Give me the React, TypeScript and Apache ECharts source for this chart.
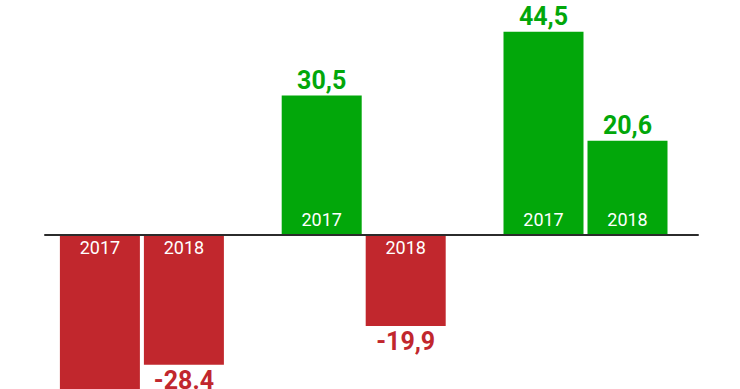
import { useEffect, useRef } from "react";
import * as echarts from "echarts";

const groups = ["Gruppe 1", "Gruppe 2", "Gruppe 3"];
const years = ["2017", "2018"];
const values2017 = [-36.8, 30.5, 44.5];
const values2018 = [-28.4, -19.9, 20.6];
const valueLabels2017 = ["", "30,5", "44,5"];
const valueLabels2018 = ["-28.4", "-19,9", "20,6"];

const GREEN = "#02a70a";
const RED = "#c1272d";
const FONT = "Roboto, 'Open Sans', sans-serif";

const Y_MIN = -33.7;
const Y_MAX = 50;
const GRID_TOP = 6.5;
const GRID_BOTTOM = 0;

export default function App() {
  const ref = useRef<HTMLDivElement>(null);

  useEffect(() => {
    document.body.style.margin = "0";
    const chart = echarts.init(ref.current!, null, { renderer: "svg" });

    const barData = (vals: number[]) =>
      vals.map((v) => ({
        value: v,
        itemStyle: { color: v >= 0 ? GREEN : RED },
        label:
          v >= 0
            ? { position: "insideBottom", distance: 6 }
            : { position: "insideTop", distance: 4 },
      }));

    const labelData = (vals: number[], labels: string[]) =>
      vals.map((v, i) => ({
        value: v,
        label: {
          position: v >= 0 ? "top" : "bottom",
          distance: v >= 0 ? 4 : 5,
          color: v >= 0 ? GREEN : RED,
          formatter: labels[i],
        },
      }));

    const barCommon = {
      type: "bar",
      barWidth: 80,
      barGap: "5%",
      barCategoryGap: "26%",
      xAxisIndex: 0,
      yAxisIndex: 0,
    };

    const yearLabel = (year: string) => ({
      show: true,
      formatter: () => year,
      color: "#ffffff",
      fontSize: 18,
      lineHeight: 18,
      fontFamily: FONT,
    });

    const valueLabel = {
      show: true,
      fontSize: 25,
      lineHeight: 22,
      fontWeight: "bold",
      fontFamily: FONT,
    };

    chart.setOption({
      animation: false,
      grid: [
        { left: 31, right: 43.6, top: GRID_TOP, bottom: GRID_BOTTOM },
        { left: 45, right: 42, top: GRID_TOP, bottom: GRID_BOTTOM },
      ],
      xAxis: [
        { type: "category", gridIndex: 0, data: groups, show: false },
        { type: "category", gridIndex: 0, data: groups, show: false, position: "top" },
        {
          type: "category",
          gridIndex: 1,
          data: groups,
          z: 10,
          axisLine: { show: true, onZero: true, lineStyle: { color: "#2b2b2b", width: 2 } },
          axisTick: { show: false },
          axisLabel: { show: false },
          splitLine: { show: false },
        },
      ],
      yAxis: [
        {
          type: "value",
          gridIndex: 0,
          min: Y_MIN,
          max: Y_MAX,
          show: false,
          splitLine: { show: false },
        },
        {
          type: "value",
          gridIndex: 1,
          min: Y_MIN,
          max: Y_MAX,
          axisLine: { show: false },
          axisTick: { show: false },
          axisLabel: { show: false },
          splitLine: { show: false },
        },
      ],
      series: [
        {
          ...barCommon,
          name: years[0],
          data: barData(values2017),
          label: yearLabel(years[0]),
        },
        {
          ...barCommon,
          name: years[1],
          data: barData(values2018),
          label: yearLabel(years[1]),
        },
        {
          ...barCommon,
          name: years[0] + " Wert",
          xAxisIndex: 1,
          data: labelData(values2017, valueLabels2017),
          itemStyle: { color: "transparent" },
          label: valueLabel,
          z: 5,
        },
        {
          ...barCommon,
          name: years[1] + " Wert",
          xAxisIndex: 1,
          data: labelData(values2018, valueLabels2018),
          itemStyle: { color: "transparent" },
          label: valueLabel,
          z: 5,
        },
      ],
    });

    return () => chart.dispose();
  }, []);

  return <div ref={ref} style={{ width: 740, height: 389 }} />;
}
